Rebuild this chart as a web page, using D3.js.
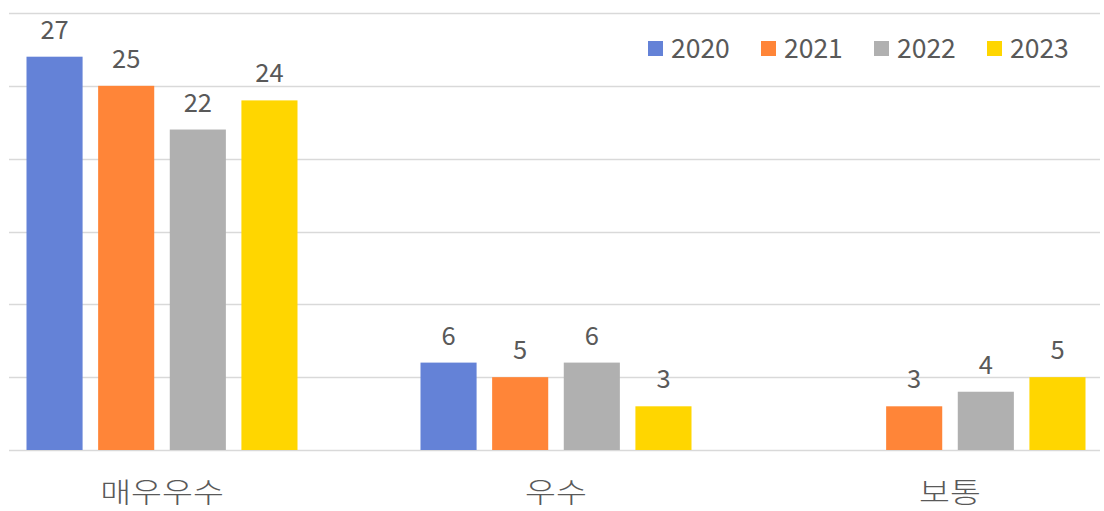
<!DOCTYPE html>
<html><head><meta charset="utf-8">
<script src="https://cdn.jsdelivr.net/npm/d3@7"></script>
<style>html,body{margin:0;padding:0;background:#fff;}</style>
</head><body>
<svg id="chart" width="1104" height="511"></svg>
<script>
const categories = ["매우우수", "우수", "보통"];
const years = ["2020", "2021", "2022", "2023"];
const values2020 = [27, 6, 0];
const values2021 = [25, 5, 3];
const values2022 = [22, 6, 4];
const values2023 = [24, 3, 5];
const colors = ["#6482D7", "#FF8538", "#B0B0B0", "#FFD600"];
const gridTicks = [0, 5, 10, 15, 20, 25, 30];

const series = [values2020, values2021, values2022, values2023];
const svg = d3.select("#chart");
const font = "'Noto Sans CJK KR', 'Open Sans', sans-serif";
const textColor = "#595959";

const x0 = d3.scaleBand().domain(categories).range([-35, 1147]).padding(0);
const x1 = d3.scaleBand().domain(years).range([61.5, 332.5]).paddingInner(0.217).paddingOuter(0);
const y = d3.scaleLinear().domain([0, 30]).range([450, 13]);

// gridlines
svg.append("g").selectAll("line").data(gridTicks).join("line")
  .attr("x1", 9).attr("x2", 1100)
  .attr("y1", d => Math.round(y(d)) + 0.5).attr("y2", d => Math.round(y(d)) + 0.5)
  .attr("stroke", "#D9D9D9").attr("stroke-width", 1.5);

// bars
const rows = [];
categories.forEach((c, ci) => years.forEach((yr, si) => {
  rows.push({cat: c, year: yr, si, v: series[si][ci]});
}));
const visible = rows.filter(d => d.v > 0);

svg.append("g").selectAll("rect").data(visible).join("rect")
  .attr("x", d => x0(d.cat) + x1(d.year))
  .attr("width", x1.bandwidth())
  .attr("y", d => y(d.v))
  .attr("height", d => y(0) - y(d.v))
  .attr("fill", d => colors[d.si]);

// value labels
svg.append("g").selectAll("text").data(visible).join("text")
  .attr("x", d => x0(d.cat) + x1(d.year) + x1.bandwidth() / 2)
  .attr("y", d => y(d.v) - 18)
  .attr("text-anchor", "middle")
  .attr("font-family", font).attr("font-size", 25.5)
  .attr("fill", textColor)
  .text(d => d.v);

// category labels (slightly widened glyphs)
svg.append("g").selectAll("text").data(categories).join("text")
  .attr("transform", d => `translate(${x0(d) + x0.bandwidth() / 2},502.5) scale(1.2,1)`)
  .attr("text-anchor", "middle")
  .attr("font-family", font).attr("font-size", 28)
  .attr("font-weight", 300)
  .attr("fill", textColor)
  .text(d => d);

// legend
const lg = svg.append("g").selectAll("g").data(years).join("g")
  .attr("transform", (d, i) => `translate(${648 + i * 113},41)`);
lg.append("rect").attr("width", 15).attr("height", 15).attr("fill", (d, i) => colors[i]);
lg.append("text").attr("x", 23).attr("y", 16.5)
  .attr("font-family", font).attr("font-size", 26.5).attr("fill", textColor)
  .text(d => d);
</script>
</body></html>
